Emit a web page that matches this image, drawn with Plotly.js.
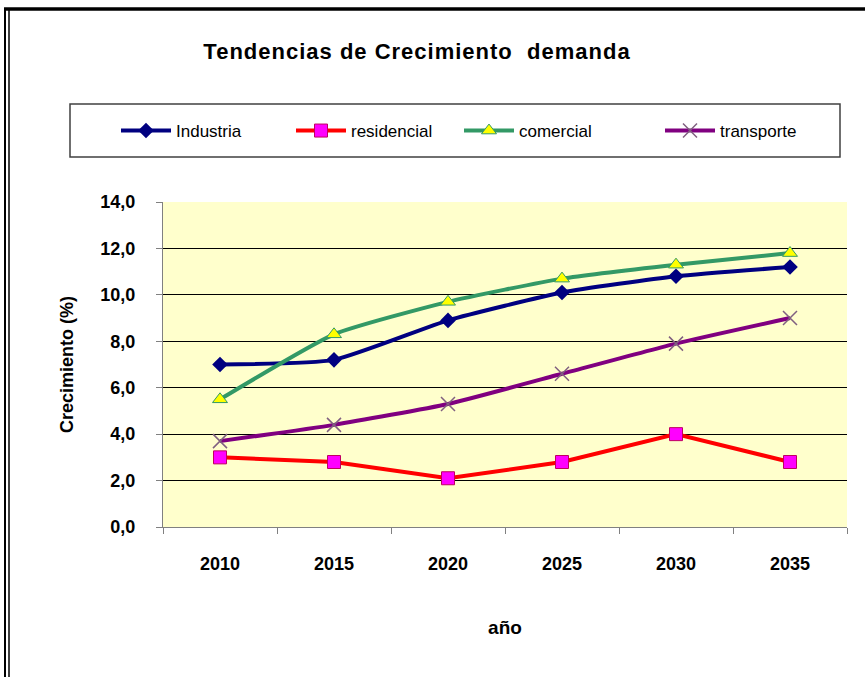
<!DOCTYPE html>
<html><head><meta charset="utf-8">
<script src="https://cdn.plot.ly/plotly-3.0.1.min.js"></script>
<style>html,body{margin:0;padding:0;background:#fff;}#chart{width:865px;height:677px;}
#chart .gtitle{letter-spacing:1px;}</style>
</head><body><div id="chart"></div>
<script>
const years = ["2010","2015","2020","2025","2030","2035"];
const industria = [7.0, 7.2, 8.9, 10.1, 10.8, 11.2];
const residencial = [3.0, 2.8, 2.1, 2.8, 4.0, 2.8];
const comercial = [5.5, 8.3, 9.7, 10.7, 11.3, 11.8];
const transporte = [3.7, 4.4, 5.3, 6.6, 7.9, 9.0];
const yTicks = [0, 2, 4, 6, 8, 10, 12, 14];

const traces = [
  {x: years, y: industria, name: "Industria", mode: "lines+markers", legend: "legend",
   line: {color: "#000080", width: 4, shape: "spline", smoothing: 0.5},
   marker: {symbol: "diamond", size: 12, color: "#000080"}},
  {x: years, y: residencial, name: "residencial", mode: "lines+markers", legend: "legend2",
   line: {color: "#FF0000", width: 4},
   marker: {symbol: "square", size: 13, color: "#FF00FF", line: {color: "#C00060", width: 1}}},
  {x: years, y: comercial, name: "comercial", mode: "lines+markers", legend: "legend3",
   line: {color: "#339966", width: 4, shape: "spline", smoothing: 0.5},
   marker: {symbol: "triangle-up", size: 13, color: "#FFFF00", line: {color: "#339966", width: 1}}},
  {x: years, y: transporte, name: "transporte", mode: "lines+markers", legend: "legend4",
   line: {color: "#800080", width: 4, shape: "spline", smoothing: 0.5},
   marker: {symbol: "x-thin", size: 14, color: "#806080", line: {color: "#806080", width: 1.5}}}
];

const px = v => (v - 163) / 684;
const py = v => (527 - v) / 325;

function leg(xpix) {
  return {orientation: "h", x: px(xpix), xanchor: "left", y: py(131), yanchor: "middle",
          bgcolor: "rgba(0,0,0,0)", borderwidth: 0, itemwidth: 50,
          font: {size: 17, color: "#000", family: "Liberation Sans, Arial, sans-serif"}};
}

const layout = {
  width: 865, height: 677,
  margin: {l: 163, r: 18, t: 202, b: 150},
  paper_bgcolor: "#ffffff",
  plot_bgcolor: "#FFFFCC",
  separators: ",.",
  font: {family: "Liberation Sans, Arial, sans-serif", color: "#000"},
  title: {text: "Tendencias de Crecimiento  demanda", font: {size: 22, color: "#000", weight: "bold"},
          x: 417/865, xanchor: "center", xref: "container", y: 1 - 51/677, yanchor: "middle", yref: "container"},
  xaxis: {type: "category", range: [-0.5, 5.5], showgrid: false, zeroline: false,
          showline: true, linecolor: "#808080", linewidth: 1, mirror: false,
          ticks: "outside", tickson: "boundaries", ticklen: 6, tickcolor: "#808080",
          ticklabelstandoff: 20,
          tickfont: {size: 18, color: "#000", weight: "bold"},
          title: {text: "año", font: {size: 19, color: "#000", weight: "bold"}, standoff: 48},
          fixedrange: true},
  yaxis: {range: [0, 14], tickvals: yTicks, tickformat: ".1f", showgrid: true, gridcolor: "#000000", gridwidth: 1,
          zeroline: false, showline: true, linecolor: "#808080", linewidth: 1,
          ticks: "outside", ticklen: 6, tickcolor: "#808080",
          ticklabelstandoff: 17,
          tickfont: {size: 18, color: "#000", weight: "bold"},
          title: {text: "Crecimiento (%)", font: {size: 18, color: "#000", weight: "bold"}, standoff: 22},
          fixedrange: true},
  showlegend: true,
  legend: leg(116),
  legend2: leg(291),
  legend3: leg(459),
  legend4: leg(660),
  shapes: [
    {type: "rect", xref: "paper", yref: "paper", x0: px(70), x1: px(840), y0: py(157), y1: py(104),
     line: {color: "#404040", width: 1.5}, fillcolor: "rgba(0,0,0,0)"},
    {type: "line", xref: "paper", yref: "paper", x0: px(5), x1: px(5), y0: py(9), y1: py(690),
     line: {color: "#000", width: 2}},
    {type: "line", xref: "paper", yref: "paper", x0: px(9), x1: px(9), y0: py(9), y1: py(690),
     line: {color: "#000", width: 1.5}},
    {type: "line", xref: "paper", yref: "paper", x0: px(4), x1: px(870), y0: py(9), y1: py(9),
     line: {color: "#000", width: 3.5}}
  ]
};

Plotly.newPlot("chart", traces, layout, {displayModeBar: false, staticPlot: true});
</script>
</body></html>
